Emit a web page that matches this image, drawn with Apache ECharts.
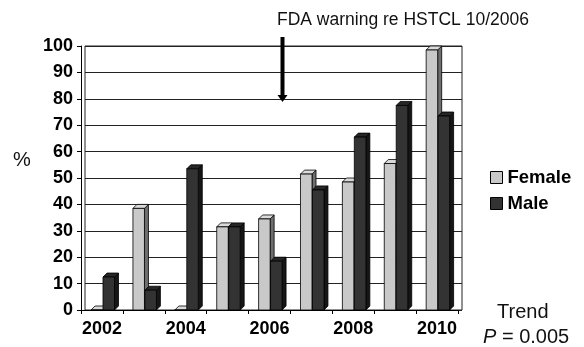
<!DOCTYPE html>
<html>
<head>
<meta charset="utf-8">
<script src="https://cdn.jsdelivr.net/npm/echarts@6/dist/echarts.min.js"></script>
<style>html,body{margin:0;padding:0;background:#fff}#c{width:584px;height:347px}</style>
</head>
<body>
<div id="c"></div>
<script>
const years = ['2002','2003','2004','2005','2006','2007','2008','2009','2010'];
const female = [0, 40, 0, 33, 36, 53, 50, 57, 100];
const male = [14, 9, 55, 33, 20, 47, 67, 79, 75];
const yTicks = {min: 0, max: 100, interval: 10};
const warning = {text: 'FDA warning re HSTCL 10/2006', yearIndex: 4, month: 10};

const FONT = '"Liberation Sans", Arial, sans-serif';
const chart = echarts.init(document.getElementById('c'), null, {renderer: 'canvas'});

const styles = [
  {front: '#c9c9c9', side: '#6e6e6e', cap: '#dadada'},
  {front: '#333333', side: '#161616', cap: '#262626'}
];

function renderBar(params, api) {
  const i = api.value(0), v = api.value(1);
  const base = api.coord([i, 0]);
  const top = api.coord([i, v]);
  const cw = api.size([1, 0])[0];
  const start = base[0] - cw / 2;
  const s = params.seriesIndex;
  const x0 = start + (s === 0 ? 0.24 : 0.525) * cw;
  const w = 0.275 * cw;
  const d = 4;
  const y0 = base[1];
  const yt = Math.min(top[1] + d, y0);
  const st = styles[s];
  const line = {stroke: '#000', lineWidth: 0.8};
  return {
    type: 'group',
    children: [
      {type: 'polygon', shape: {points: [[x0 + w, yt], [x0 + w + d, yt - d], [x0 + w + d, y0 - d], [x0 + w, y0]]},
        style: Object.assign({fill: st.side}, line)},
      {type: 'polygon', shape: {points: [[x0, yt], [x0 + d, yt - d], [x0 + w + d, yt - d], [x0 + w, yt]]},
        style: Object.assign({fill: st.cap}, line)},
      {type: 'rect', shape: {x: x0, y: yt, width: w, height: y0 - yt},
        style: Object.assign({fill: st.front}, line)}
    ]
  };
}

const option = {
  backgroundColor: '#fff',
  animation: false,
  grid: [
    {left: 85, right: 122, top: 46, bottom: 37, show: true, borderColor: '#222', borderWidth: 1, backgroundColor: '#fff'},
    {left: 81, right: 126, top: 46, bottom: 37}
  ],
  xAxis: [
    {type: 'category', gridIndex: 0, data: years, show: false},
    {type: 'category', gridIndex: 1, data: years,
      axisLine: {lineStyle: {color: '#000', width: 1}},
      axisTick: {show: true, interval: 0, length: 4, lineStyle: {color: '#000'}},
      axisLabel: {interval: 1, margin: 10, color: '#000', fontFamily: FONT, fontWeight: 'bold', fontSize: 18}
    }
  ],
  yAxis: [
    {type: 'value', gridIndex: 0, min: yTicks.min, max: yTicks.max, interval: yTicks.interval,
      axisLine: {show: false}, axisTick: {show: false}, axisLabel: {show: false},
      splitLine: {show: true, lineStyle: {color: '#222', width: 1}}},
    {type: 'value', gridIndex: 1, min: yTicks.min, max: yTicks.max, interval: yTicks.interval,
      axisLine: {show: true, lineStyle: {color: '#000', width: 1}},
      axisTick: {show: true, length: 4, lineStyle: {color: '#000'}},
      splitLine: {show: false},
      axisLabel: {margin: 8, color: '#000', fontFamily: FONT, fontWeight: 'bold', fontSize: 18}}
  ],
  legend: {
    orient: 'vertical', left: 490, top: 168, padding: 0, itemWidth: 12, itemHeight: 12, itemGap: 7,
    icon: 'rect',
    textStyle: {fontFamily: FONT, fontWeight: 'bold', fontSize: 18.5, color: '#000', lineHeight: 18},
    data: [
      {name: 'Female', itemStyle: {color: '#c9c9c9', borderColor: '#000', borderWidth: 1}},
      {name: 'Male', itemStyle: {color: '#333333', borderColor: '#000', borderWidth: 1}}
    ]
  },
  series: [
    {name: 'Female', type: 'custom', xAxisIndex: 1, yAxisIndex: 1, renderItem: renderBar,
      itemStyle: {color: '#c9c9c9'}, data: female.map((v, i) => [i, v])},
    {name: 'Male', type: 'custom', xAxisIndex: 1, yAxisIndex: 1, renderItem: renderBar,
      itemStyle: {color: '#333333'}, data: male.map((v, i) => [i, v])}
  ]
};
chart.setOption(option);

// annotation arrow positioned from the category axis
const c0 = chart.convertToPixel({xAxisIndex: 1}, warning.yearIndex);
const c1 = chart.convertToPixel({xAxisIndex: 1}, warning.yearIndex + 1);
const cw = c1 - c0;
const ax = Math.round(c0 - cw / 2 + (warning.month / 12) * cw) - 0.5;

chart.setOption({
  graphic: [
    {type: 'text', left: 277, top: 11, style: {text: warning.text, fontFamily: FONT, fontSize: 17.5, fill: '#111'}},
    {type: 'line', shape: {x1: ax, y1: 37, x2: ax, y2: 96}, style: {stroke: '#000', lineWidth: 4}},
    {type: 'polygon', shape: {points: [[ax - 5, 95], [ax + 5, 95], [ax, 102]]}, style: {fill: '#000'}},
    {type: 'text', left: 13, top: 150, style: {text: '%', fontFamily: FONT, fontSize: 20, fill: '#111'}},
    {type: 'text', left: 497, top: 302, style: {text: 'Trend', fontFamily: FONT, fontSize: 20, fill: '#111'}},
    {type: 'text', left: 483, top: 327, style: {
      text: '{i|P} = 0.005', fontFamily: FONT, fontSize: 20, fill: '#111',
      rich: {i: {fontFamily: FONT, fontStyle: 'italic', fontSize: 20, fill: '#111'}}}}
  ]
});
</script>
</body>
</html>
